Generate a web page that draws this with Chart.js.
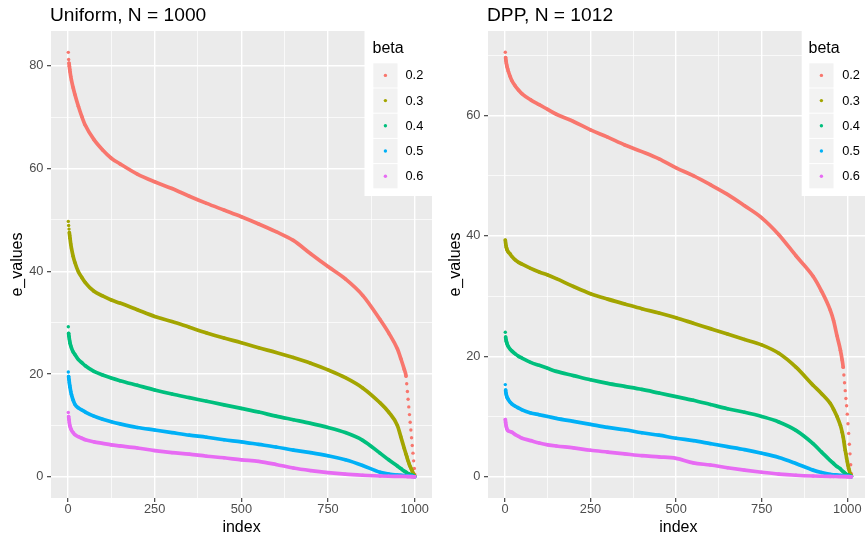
<!DOCTYPE html>
<html>
<head>
<meta charset="utf-8">
<title>e_values by index</title>
<script src="https://cdn.jsdelivr.net/npm/chart.js@4.4.0/dist/chart.umd.min.js"></script>
<style>
  html, body { margin: 0; padding: 0; background: #ffffff; overflow: hidden; }
  #wrap { position: relative; width: 865px; height: 539px; overflow: hidden; }
  canvas { position: absolute; top: 0; }
  #uniformChart { left: 0; }
  #dppChart { left: 440px; }
</style>
</head>
<body>
<div id="wrap">
  <canvas id="uniformChart" width="440" height="539"></canvas>
  <canvas id="dppChart" width="440" height="539"></canvas>
</div>
<script>
// Legend groups
const betaLabels = ['0.2', '0.3', '0.4', '0.5', '0.6'];
const betaColors = ['#F8766D', '#A3A500', '#00BF7D', '#00B0F6', '#E76BF3'];

// Tick labels
const xTicks = [0, 250, 500, 750, 1000];
const uniformYTicks = [0, 20, 40, 60, 80];
const dppYTicks = [0, 20, 40, 60];

// Uniform, N = 1000
const uniformIndex = [1, 2, 3, 4, 5, 6, 8, 10, 15, 20, 30, 40, 50, 75, 100, 125, 150, 200,
  250, 300, 350, 400, 450, 500, 550, 600, 650, 700, 750, 800, 850, 900, 925, 950,
  960, 970, 975, 977, 979, 981, 983, 985, 987, 989, 991, 993, 995, 997, 999, 1000];
const uniformB02 = [82.6, 81.2, 80.5, 79.9, 79.3, 78.8, 77.9, 77.2, 75.7, 74.4,
  72.1, 70.1, 68.4, 65.6, 63.6, 62.0, 60.9, 58.9,
  57.4, 56.1, 54.6, 53.2, 51.9, 50.6, 49.2, 47.7,
  46.0, 43.4, 40.9, 38.5, 35.3, 30.6, 28.0, 24.9,
  23.0, 20.9, 19.6, 18.1, 16.6, 15.1, 13.6, 12.1,
  10.6, 9.1, 7.6, 6.1, 4.6, 3.1, 1.6, 0.5];
const uniformB03 = [49.7, 48.9, 48.2, 47.5, 46.9, 46.4, 45.3, 44.5, 42.9, 41.7,
  39.9, 38.8, 37.8, 36.1, 35.2, 34.4, 33.8, 32.5,
  31.2, 30.2, 29.1, 28.0, 27.0, 26.1, 25.1, 24.2,
  23.2, 22.1, 20.8, 19.3, 17.3, 14.4, 12.6, 10.0,
  7.8, 5.5, 4.4, 4.0, 3.5, 3.1, 2.7, 2.3,
  2.0, 1.7, 1.4, 1.1, 0.8, 0.5, 0.25, 0.1];
const uniformB04 = [29.2, 27.9, 27.3, 26.8, 26.4, 26.0, 25.5, 25.1, 24.3, 23.8,
  22.8, 22.2, 21.6, 20.5, 19.8, 19.2, 18.7, 17.8,
  16.9, 16.1, 15.4, 14.7, 14.0, 13.3, 12.6, 11.8,
  11.1, 10.4, 9.6, 8.6, 7.1, 4.6, 3.3, 2.1,
  1.6, 1.1, 0.9, 0.8, 0.7, 0.6, 0.55, 0.5,
  0.45, 0.4, 0.35, 0.3, 0.2, 0.15, 0.1, 0.05];
const uniformB05 = [20.4, 19.5, 18.9, 18.3, 17.8, 17.4, 16.6, 16.0, 14.9, 14.1,
  13.4, 13.0, 12.6, 11.8, 11.2, 10.7, 10.3, 9.6,
  9.1, 8.6, 8.1, 7.7, 7.2, 6.8, 6.3, 5.8,
  5.2, 4.7, 4.1, 3.3, 2.2, 0.9, 0.55, 0.35,
  0.3, 0.25, 0.22, 0.2, 0.18, 0.16, 0.15, 0.13,
  0.12, 0.1, 0.09, 0.08, 0.06, 0.05, 0.03, 0.02];
const uniformB06 = [12.5, 11.7, 11.1, 10.5, 10.1, 9.8, 9.4, 9.1, 8.6, 8.2,
  7.8, 7.5, 7.2, 6.8, 6.5, 6.2, 6.0, 5.6,
  5.1, 4.7, 4.4, 4.0, 3.7, 3.3, 3.0, 2.4,
  1.7, 1.2, 0.8, 0.5, 0.3, 0.15, 0.1, 0.08,
  0.07, 0.06, 0.05, 0.05, 0.04, 0.04, 0.03, 0.03,
  0.03, 0.02, 0.02, 0.02, 0.01, 0.01, 0.01, 0.0];

// DPP, N = 1012
const dppIndex = [1, 2, 3, 4, 5, 6, 8, 10, 15, 20, 30, 40, 50, 75, 100, 125, 150, 200,
  250, 300, 350, 400, 450, 500, 550, 600, 650, 700, 750, 800, 850, 900, 925, 950,
  960, 970, 980, 985, 988, 990, 992, 994, 996, 998, 1000, 1002, 1004, 1006, 1008, 1010, 1012];
const dppB02 = [70.5, 69.6, 69.1, 68.7, 68.4, 68.1, 67.7, 67.3, 66.5, 65.8,
  64.9, 64.2, 63.6, 62.6, 61.8, 61.0, 60.2, 59.0,
  57.6, 56.4, 55.1, 54.0, 52.8, 51.3, 50.0, 48.5,
  46.9, 45.0, 43.0, 40.2, 36.7, 33.3, 30.8, 27.7,
  25.9, 23.4, 21.0, 19.4, 18.2, 16.9, 15.6, 14.3,
  13.0, 11.8, 10.4, 8.8, 7.2, 5.4, 3.8, 2.0, 0.5];
const dppB03 = [39.3, 38.8, 38.4, 38.1, 37.9, 37.7, 37.5, 37.3, 37.0, 36.6,
  36.0, 35.6, 35.3, 34.6, 34.0, 33.5, 32.9, 31.6,
  30.4, 29.5, 28.7, 27.9, 27.2, 26.4, 25.5, 24.6,
  23.7, 22.8, 21.9, 20.5, 18.2, 15.2, 13.8, 12.2,
  11.2, 10.0, 8.5, 7.4, 6.6, 5.9, 5.1, 4.4,
  3.8, 3.1, 2.5, 1.9, 1.4, 1.0, 0.6, 0.35, 0.15];
const dppB04 = [24.0, 23.2, 22.8, 22.5, 22.3, 22.1, 21.8, 21.6, 21.2, 20.9,
  20.4, 20.0, 19.7, 19.0, 18.5, 18.0, 17.5, 16.8,
  16.1, 15.5, 15.0, 14.5, 13.9, 13.3, 12.7, 12.0,
  11.3, 10.7, 10.0, 9.1, 7.7, 5.5, 4.1, 2.7,
  2.2, 1.7, 1.3, 1.0, 0.85, 0.75, 0.65, 0.55,
  0.45, 0.4, 0.35, 0.3, 0.25, 0.2, 0.15, 0.1, 0.05];
const dppB05 = [15.3, 14.4, 13.9, 13.6, 13.4, 13.2, 13.0, 12.8, 12.4, 12.1,
  11.7, 11.4, 11.1, 10.6, 10.3, 10.0, 9.7, 9.2,
  8.7, 8.2, 7.8, 7.3, 6.9, 6.4, 6.0, 5.5,
  5.0, 4.5, 3.9, 3.2, 2.2, 1.1, 0.7, 0.4,
  0.33, 0.28, 0.23, 0.2, 0.18, 0.16, 0.14, 0.12,
  0.1, 0.09, 0.08, 0.07, 0.06, 0.05, 0.04, 0.03, 0.02];
const dppB06 = [9.5, 9.0, 8.6, 8.3, 8.1, 7.9, 7.7, 7.6, 7.5, 7.4,
  7.0, 6.7, 6.4, 6.0, 5.6, 5.3, 5.1, 4.8,
  4.4, 4.1, 3.8, 3.5, 3.3, 3.05, 2.3, 1.95,
  1.5, 1.1, 0.75, 0.45, 0.25, 0.12, 0.08, 0.05,
  0.04, 0.04, 0.03, 0.03, 0.03, 0.02, 0.02, 0.02,
  0.02, 0.01, 0.01, 0.01, 0.01, 0.01, 0.0, 0.0, 0.0];

// Fonts
const FONT = '"Liberation Sans", Arial, Helvetica, sans-serif';
Chart.defaults.font.family = FONT;

// Minor breaks sit halfway between the labelled ones
function withMinor(majors, min, max) {
  const step = majors[1] - majors[0];
  const all = [];
  majors.forEach(v => all.push(v, v + step / 2));
  all.push(majors[0] - step / 2);
  return all.filter(v => v >= min && v <= max).sort((a, b) => a - b);
}

// Steep stretches are plotted as separate dots instead of a joined stroke
function segmentColor(ctx) {
  const data = ctx.chart.data.datasets[ctx.datasetIndex].data;
  const step = Math.abs(data[ctx.p1DataIndex].x - data[ctx.p0DataIndex].x) || 1;
  const rise = Math.abs(ctx.p1.y - ctx.p0.y) / step;
  return rise > 3.4 ? 'rgba(0,0,0,0)' : undefined;
}

function buildDatasets(index, seriesList) {
  return seriesList.map((values, i) => ({
    label: betaLabels[i],
    data: index.map((x, k) => ({ x: x, y: values[k] })),
    showLine: true,
    cubicInterpolationMode: 'monotone',
    borderColor: betaColors[i],
    backgroundColor: betaColors[i],
    borderWidth: 3.7,
    borderCapStyle: 'round',
    borderJoinStyle: 'round',
    pointRadius: 1.7,
    pointHoverRadius: 0,
    pointBorderWidth: 0,
    pointBackgroundColor: betaColors[i],
    order: seriesList.length - 1 - i,
    segment: { borderColor: segmentColor }
  }));
}

function axisConfig(majors, min, max, isX, size, titleText, titlePad) {
  const ticks = withMinor(majors, min, max);
  const isMajor = v => majors.includes(v);
  return {
    type: 'linear',
    min: min,
    max: max,
    afterBuildTicks: axis => { axis.ticks = ticks.map(v => ({ value: v })); },
    afterFit: axis => { if (isX) axis.height = size; else axis.width = size; },
    border: { display: false },
    grid: {
      color: '#FFFFFF',
      lineWidth: c => (c.tick && isMajor(c.tick.value)) ? 1.4 : 0.7,
      drawTicks: true,
      tickLength: 4,
      tickWidth: 1.1,
      tickColor: c => (c.tick && isMajor(c.tick.value)) ? '#333333' : 'rgba(0,0,0,0)'
    },
    ticks: {
      autoSkip: false,
      maxRotation: 0,
      padding: isX ? 0 : 3.6,
      color: '#4D4D4D',
      font: { size: 12.8 },
      callback: v => isMajor(v) ? String(v) : ''
    },
    title: {
      display: true,
      text: titleText,
      color: '#000000',
      font: { size: 16 },
      padding: titlePad
    }
  };
}

// Panel background, title and the beta legend
const panelDecor = {
  id: 'panelDecor',
  beforeDraw(chart) {
    const { ctx, chartArea: a } = chart;
    ctx.save();
    ctx.fillStyle = '#EBEBEB';
    ctx.fillRect(a.left, a.top, a.right - a.left, a.bottom - a.top);
    ctx.restore();
  },
  afterDraw(chart, args, opts) {
    const { ctx, chartArea: a } = chart;
    ctx.save();

    // Title
    ctx.fillStyle = '#000000';
    ctx.textBaseline = 'alphabetic';
    ctx.textAlign = 'left';
    ctx.font = '19.2px ' + FONT;
    ctx.fillText(opts.title, a.left - 1, 20.7);

    // Legend box
    ctx.fillStyle = '#FFFFFF';
    ctx.fillRect(opts.boxLeft, a.top, chart.width - opts.boxLeft, 196 - a.top);

    ctx.fillStyle = '#000000';
    ctx.font = '16px ' + FONT;
    ctx.fillText('beta', opts.keyLeft - 0.8, 53.3);

    const keySize = 24.2;
    betaLabels.forEach((label, i) => {
      const top = 63.3 + i * 25.2;
      ctx.fillStyle = '#F2F2F2';
      ctx.fillRect(opts.keyLeft, top, keySize, keySize);
      ctx.fillStyle = betaColors[i];
      ctx.beginPath();
      ctx.arc(opts.keyLeft + keySize / 2, top + keySize / 2, 1.7, 0, Math.PI * 2);
      ctx.fill();
      ctx.fillStyle = '#000000';
      ctx.font = '12.8px ' + FONT;
      ctx.textBaseline = 'middle';
      ctx.fillText(label, opts.labelLeft, top + keySize / 2 + 0.5);
      ctx.textBaseline = 'alphabetic';
    });
    ctx.restore();
  }
};

function makePanel(canvasId, cfg) {
  const ctx = document.getElementById(canvasId).getContext('2d');
  return new Chart(ctx, {
    type: 'scatter',
    data: { datasets: buildDatasets(cfg.index, cfg.series) },
    options: {
      responsive: false,
      animation: false,
      events: [],
      layout: { padding: { top: 31, right: cfg.rightPad, bottom: 0, left: 0 } },
      scales: {
        x: axisConfig(xTicks, cfg.xMin, cfg.xMax, true, 41, 'index', { top: 0, bottom: 2 }),
        y: axisConfig(cfg.yTicks, cfg.yMin, cfg.yMax, false, cfg.yAxisWidth, 'e_values',
          { top: cfg.yTitlePad, bottom: 0 })
      },
      plugins: {
        legend: { display: false },
        tooltip: { enabled: false },
        title: { display: false },
        panelDecor: {
          title: cfg.title,
          boxLeft: cfg.boxLeft,
          keyLeft: cfg.keyLeft,
          labelLeft: cfg.labelLeft
        }
      }
    },
    plugins: [panelDecor]
  });
}

makePanel('uniformChart', {
  title: 'Uniform, N = 1000',
  index: uniformIndex,
  series: [uniformB02, uniformB03, uniformB04, uniformB05, uniformB06],
  yTicks: uniformYTicks,
  xMin: -48.95, xMax: 1049.95,
  yMin: -4.13, yMax: 86.75,
  rightPad: 8,
  yAxisWidth: 51,
  yTitlePad: 8.4,
  boxLeft: 364.5, keyLeft: 373.3, labelLeft: 405.5
});

makePanel('dppChart', {
  title: 'DPP, N = 1012',
  index: dppIndex,
  series: [dppB02, dppB03, dppB04, dppB05, dppB06],
  yTicks: dppYTicks,
  xMin: -49.55, xMax: 1062.55,
  yMin: -3.53, yMax: 74.03,
  rightPad: 11.3,
  yAxisWidth: 48,
  yTitlePad: 5.8,
  boxLeft: 361.7, keyLeft: 369.3, labelLeft: 402.2
});
</script>
</body>
</html>
